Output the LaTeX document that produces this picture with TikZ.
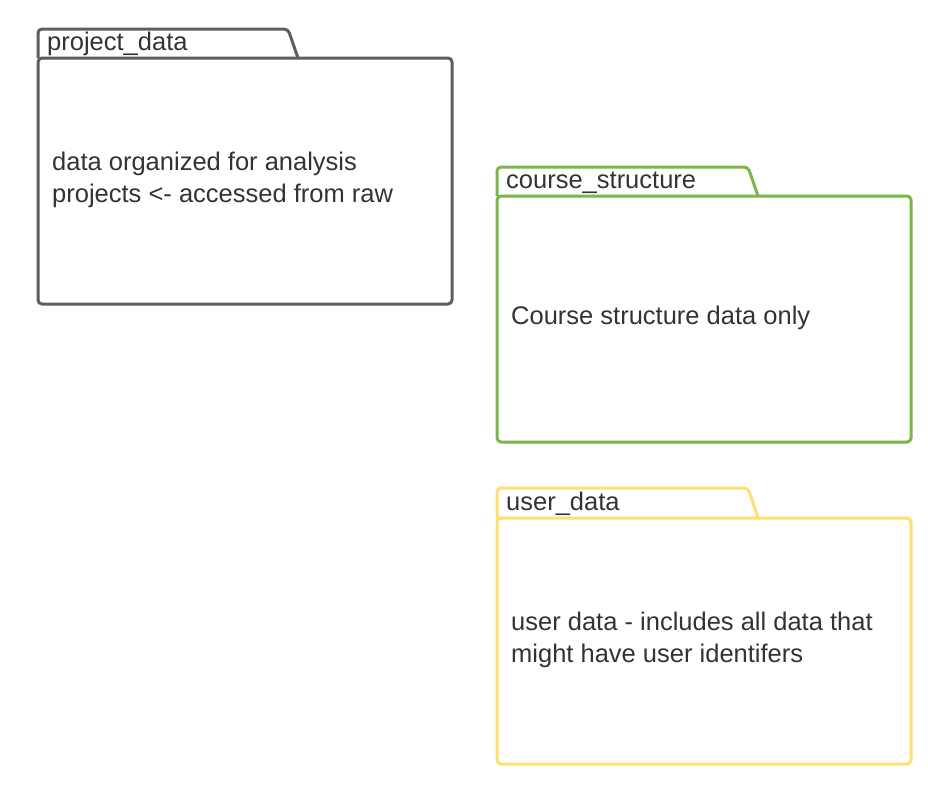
\documentclass[tikz,border=0pt]{standalone}
\usepackage{fontspec}
\setmainfont{Liberation Sans}
\definecolor{greyline}{HTML}{5E5E5E}
\definecolor{greenline}{HTML}{7AB648}
\definecolor{yellowline}{HTML}{FFDF71}
\definecolor{txt}{HTML}{333333}
\begin{document}
\begin{tikzpicture}[x=1pt,y=-1pt,
  body/.style={draw=#1, line width=3pt, rounded corners=4pt, fill=white, anchor=north west,
    minimum width=414pt, minimum height=246pt, inner sep=0pt, outer sep=0pt},
  tab/.style={draw=#1, line width=3pt, rounded corners=4pt, line join=round},
  label/.style={font=\fontsize{25.5}{32}\selectfont, text=txt, inner sep=0pt, anchor=base west},
  desc/.style={font=\fontsize{25.5}{32}\selectfont, text=txt, inner sep=0pt, anchor=west, align=left}]
\useasboundingbox (0,0) rectangle (928,788);
% project_data
\node[body=greyline] (pbody) at (38,58) {};
\draw[tab=greyline] (pbody.north west) -- ++(0,-29) -- ++(250,0) -- ++(10,29);
\node[label] (plabel) at ([shift={(9,-8)}]pbody.north west) {project\_data};
\node[desc] (ptext) at ([shift={(14,-1)}]pbody.west) {data organized for analysis\\projects <- accessed from raw};
% course_structure
\node[body=greenline] (cbody) at (497,196) {};
\draw[tab=greenline] (cbody.north west) -- ++(0,-29) -- ++(251,0) -- ++(10,29);
\node[label] (clabel) at ([shift={(9,-8)}]cbody.north west) {course\_structure};
\node[desc] (ctext) at ([shift={(14,-1)}]cbody.west) {Course structure data only};
% user_data
\node[body=yellowline] (ubody) at (497,518) {};
\draw[tab=yellowline] (ubody.north west) -- ++(0,-30) -- ++(251,0) -- ++(10,30);
\node[label] (ulabel) at ([shift={(9,-8)}]ubody.north west) {user\_data};
\node[desc] (utext) at ([shift={(14,-1)}]ubody.west) {user data - includes all data that\\might have user identifers};
\end{tikzpicture}
\end{document}
